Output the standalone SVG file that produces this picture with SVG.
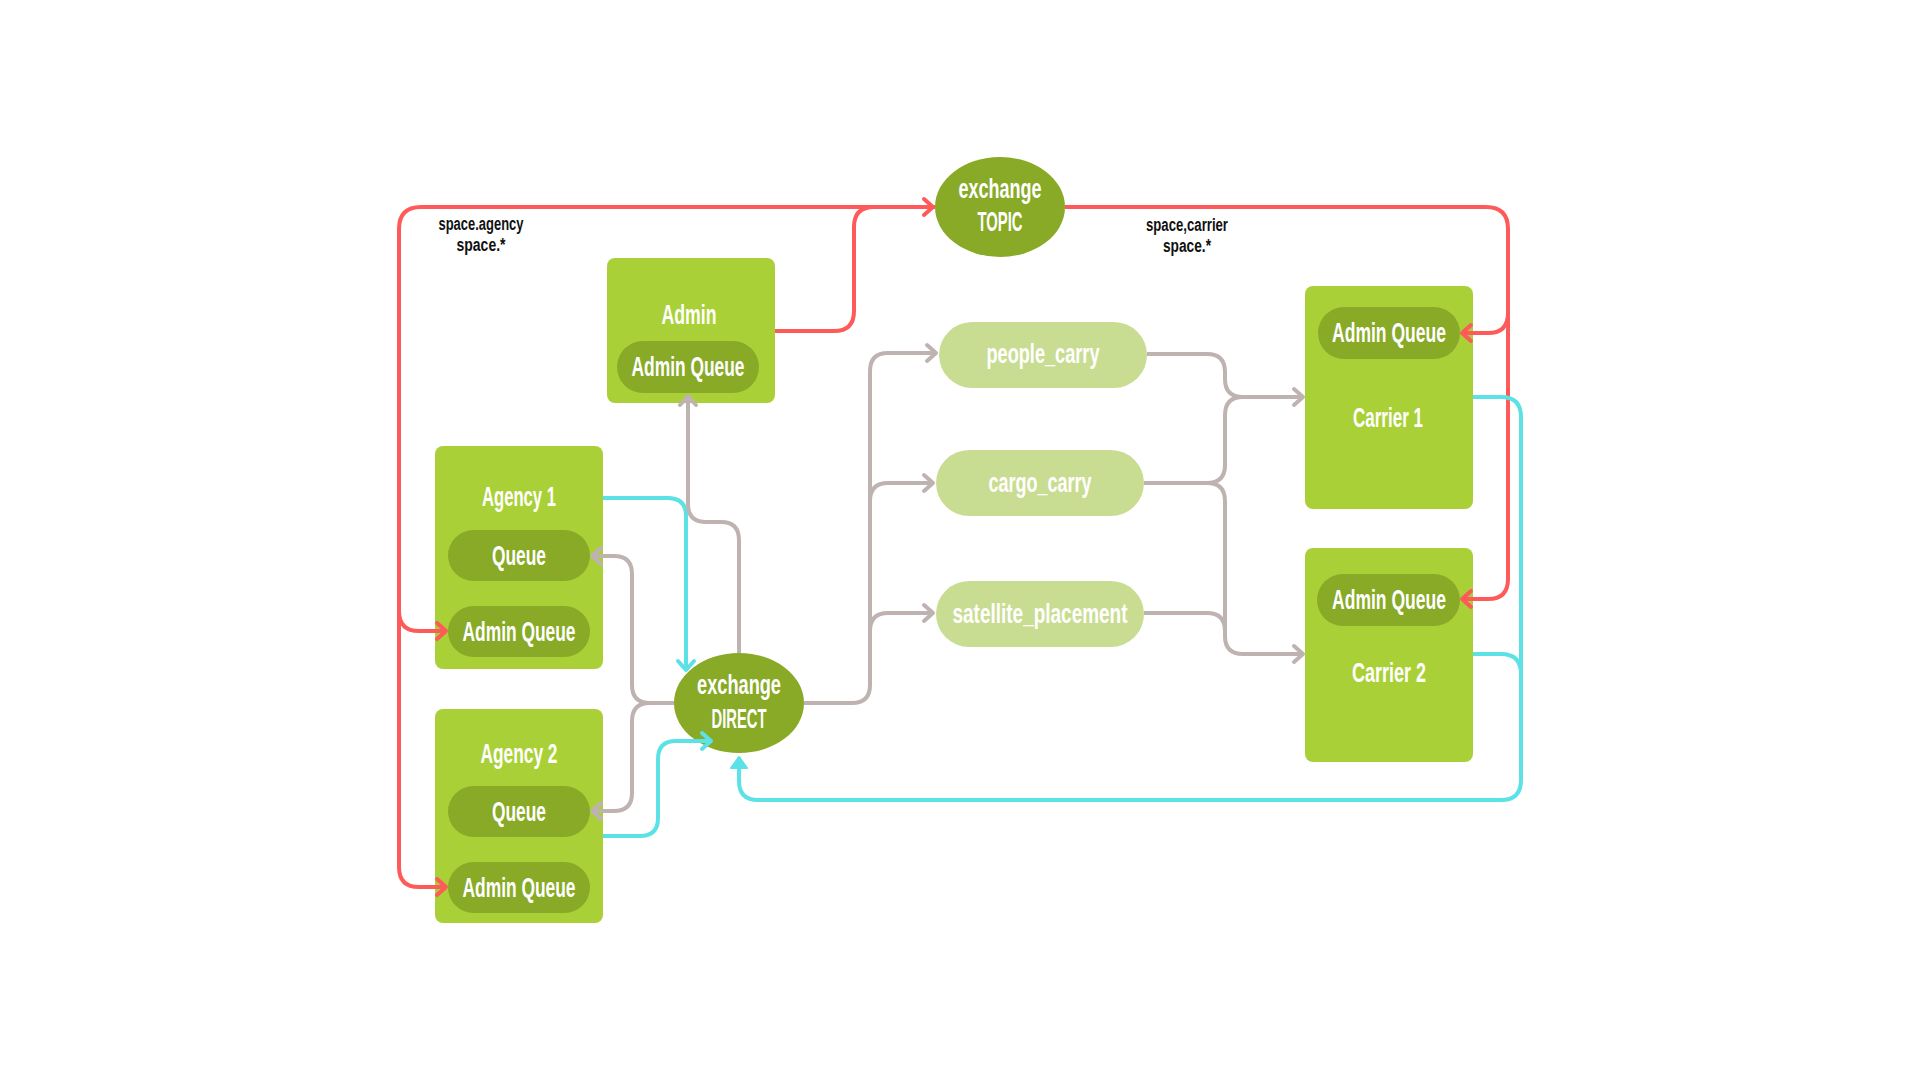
<svg xmlns="http://www.w3.org/2000/svg" width="1920" height="1080" viewBox="0 0 1920 1080">
  <style>
    .box { fill: #A9D137; }
    .pill { fill: #88AA27; }
    .route { fill: #C9DD92; }
    .xchg { fill: #88AA27; }
    .lbl { fill: #FFFFFF; font-family: "Liberation Sans Narrow", "Liberation Sans", "DejaVu Sans Condensed", sans-serif; font-weight: bold; font-size: 28px; text-anchor: middle; }
    .key { fill: #111111; font-family: "Liberation Sans Narrow", "Liberation Sans", "DejaVu Sans Condensed", sans-serif; font-weight: bold; font-size: 18px; text-anchor: middle; }
    .red { fill: none; stroke: #FF5A5A; stroke-width: 4; }
    .cyan { fill: none; stroke: #5CE1E6; stroke-width: 4; }
    .grey { fill: none; stroke: #BEB3B0; stroke-width: 4; }
  </style>
  <defs>
    <marker id="arRed" viewBox="-14 -12 18 24" markerWidth="18" markerHeight="24" refX="0" refY="0" orient="auto" markerUnits="userSpaceOnUse">
      <path d="M -9 -8 L 0 0 L -9 8" fill="none" stroke="#FF5A5A" stroke-width="4" stroke-linecap="round" stroke-linejoin="round"/>
    </marker>
    <marker id="arCyan" viewBox="-14 -12 18 24" markerWidth="18" markerHeight="24" refX="0" refY="0" orient="auto" markerUnits="userSpaceOnUse">
      <path d="M -9 -8 L 0 0 L -9 8" fill="none" stroke="#5CE1E6" stroke-width="4" stroke-linecap="round" stroke-linejoin="round"/>
    </marker>
    <marker id="arCyanFill" viewBox="-14 -12 18 24" markerWidth="18" markerHeight="24" refX="0" refY="0" orient="auto" markerUnits="userSpaceOnUse">
      <path d="M -11 -8 L 0 0 L -11 8 Z" fill="#5CE1E6" stroke="#5CE1E6" stroke-width="2" stroke-linejoin="round"/>
    </marker>
    <marker id="arGrey" viewBox="-14 -12 18 24" markerWidth="18" markerHeight="24" refX="0" refY="0" orient="auto" markerUnits="userSpaceOnUse">
      <path d="M -9 -8 L 0 0 L -9 8" fill="none" stroke="#BEB3B0" stroke-width="4" stroke-linecap="round" stroke-linejoin="round"/>
    </marker>
  </defs>

  <rect width="1920" height="1080" fill="#FFFFFF"/>

  <!-- routing key labels -->
  <g id="key-agency">
    <text class="key" x="481" y="230" textLength="85" lengthAdjust="spacingAndGlyphs">space.agency</text>
    <text class="key" x="481" y="251" textLength="49" lengthAdjust="spacingAndGlyphs">space.*</text>
  </g>
  <g id="key-carrier">
    <text class="key" x="1187" y="231" textLength="82" lengthAdjust="spacingAndGlyphs">space,carrier</text>
    <text class="key" x="1187" y="252" textLength="48" lengthAdjust="spacingAndGlyphs">space.*</text>
  </g>

  <!-- exchanges -->
  <g id="exchange-topic">
    <ellipse class="xchg" cx="1000" cy="207" rx="65" ry="50"/>
    <text class="lbl" x="1000" y="198" textLength="83" lengthAdjust="spacingAndGlyphs">exchange</text>
    <text class="lbl" x="1000" y="231" textLength="45" lengthAdjust="spacingAndGlyphs">TOPIC</text>
  </g>
  <g id="exchange-direct">
    <ellipse class="xchg" cx="739" cy="703" rx="65" ry="50"/>
    <text class="lbl" x="739" y="694" textLength="84" lengthAdjust="spacingAndGlyphs">exchange</text>
    <text class="lbl" x="739" y="728" textLength="55" lengthAdjust="spacingAndGlyphs">DIRECT</text>
  </g>

  <!-- admin -->
  <g id="admin">
    <rect class="box" x="607" y="258" width="168" height="145" rx="8"/>
    <text class="lbl" x="689" y="324" textLength="55" lengthAdjust="spacingAndGlyphs">Admin</text>
    <rect class="pill" x="617" y="341" width="142" height="52" rx="26"/>
    <text class="lbl" x="688" y="376" textLength="113" lengthAdjust="spacingAndGlyphs">Admin Queue</text>
  </g>

  <!-- agencies -->
  <g id="agency-1">
    <rect class="box" x="435" y="446" width="168" height="223" rx="8"/>
    <text class="lbl" x="519" y="506" textLength="74" lengthAdjust="spacingAndGlyphs">Agency 1</text>
    <rect class="pill" x="448" y="530" width="142" height="51" rx="25.5"/>
    <text class="lbl" x="519" y="565" textLength="54" lengthAdjust="spacingAndGlyphs">Queue</text>
    <rect class="pill" x="448" y="606" width="142" height="51" rx="25.5"/>
    <text class="lbl" x="519" y="641" textLength="113" lengthAdjust="spacingAndGlyphs">Admin Queue</text>
  </g>
  <g id="agency-2">
    <rect class="box" x="435" y="709" width="168" height="214" rx="8"/>
    <text class="lbl" x="519" y="763" textLength="77" lengthAdjust="spacingAndGlyphs">Agency 2</text>
    <rect class="pill" x="448" y="786" width="142" height="51" rx="25.5"/>
    <text class="lbl" x="519" y="821" textLength="54" lengthAdjust="spacingAndGlyphs">Queue</text>
    <rect class="pill" x="448" y="862" width="142" height="51" rx="25.5"/>
    <text class="lbl" x="519" y="897" textLength="113" lengthAdjust="spacingAndGlyphs">Admin Queue</text>
  </g>

  <!-- routing keys on the direct exchange -->
  <g id="people-carry">
    <rect class="route" x="939" y="322" width="208" height="66" rx="33"/>
    <text class="lbl" x="1043" y="363" textLength="113" lengthAdjust="spacingAndGlyphs">people_carry</text>
  </g>
  <g id="cargo-carry">
    <rect class="route" x="936" y="450" width="208" height="66" rx="33"/>
    <text class="lbl" x="1040" y="492" textLength="103" lengthAdjust="spacingAndGlyphs">cargo_carry</text>
  </g>
  <g id="satellite-placement">
    <rect class="route" x="936" y="581" width="208" height="66" rx="33"/>
    <text class="lbl" x="1040" y="623" textLength="175" lengthAdjust="spacingAndGlyphs">satellite_placement</text>
  </g>

  <!-- carriers -->
  <g id="carrier-1">
    <rect class="box" x="1305" y="286" width="168" height="223" rx="8"/>
    <rect class="pill" x="1318" y="307" width="142" height="52" rx="26"/>
    <text class="lbl" x="1389" y="342" textLength="114" lengthAdjust="spacingAndGlyphs">Admin Queue</text>
    <text class="lbl" x="1388" y="427" textLength="70" lengthAdjust="spacingAndGlyphs">Carrier 1</text>
  </g>
  <g id="carrier-2">
    <rect class="box" x="1305" y="548" width="168" height="214" rx="8"/>
    <rect class="pill" x="1317" y="574" width="143" height="52" rx="26"/>
    <text class="lbl" x="1389" y="609" textLength="114" lengthAdjust="spacingAndGlyphs">Admin Queue</text>
    <text class="lbl" x="1389" y="682" textLength="74" lengthAdjust="spacingAndGlyphs">Carrier 2</text>
  </g>

  <!-- connectors, drawn over the boxes so the arrowheads stay visible -->
  <g id="connectors">
    <!-- topic exchange routing (red) -->
    <path class="red" d="M 775 331 H 834 Q 854 331 854 311 V 227 Q 854 207 874 207 H 933" marker-end="url(#arRed)"/>
    <path class="red" d="M 935 207 H 421 Q 399 207 399 229 V 867 Q 399 887 419 887 H 446" marker-end="url(#arRed)"/>
    <path class="red" d="M 399 611 Q 399 631 419 631 H 446" marker-end="url(#arRed)"/>
    <path class="red" d="M 1065 207 H 1486 Q 1508 207 1508 229 V 579 Q 1508 599 1488 599 H 1462" marker-end="url(#arRed)"/>
    <path class="red" d="M 1508 313 Q 1508 333 1488 333 H 1462" marker-end="url(#arRed)"/>

    <!-- publishers into the direct exchange (cyan) -->
    <path class="cyan" d="M 603 498 H 668 Q 686 498 686 516 V 670" marker-end="url(#arCyan)"/>
    <path class="cyan" d="M 603 836 H 640 Q 658 836 658 818 V 759 Q 658 741 676 741 H 711" marker-end="url(#arCyan)"/>
    <path class="cyan" d="M 1473 397 H 1501 Q 1521 397 1521 417 V 780 Q 1521 800 1501 800 H 758 Q 739 800 739 781 V 757" marker-end="url(#arCyanFill)"/>
    <path class="cyan" d="M 1473 654 H 1501 Q 1521 654 1521 674"/>

    <!-- direct exchange deliveries (grey) -->
    <path class="grey" d="M 674 703 H 650 Q 632 703 632 685 V 574 Q 632 556 614 556 H 592" marker-end="url(#arGrey)"/>
    <path class="grey" d="M 650 703 Q 632 703 632 721 V 793 Q 632 811 614 811 H 592" marker-end="url(#arGrey)"/>
    <path class="grey" d="M 739 653 V 540 Q 739 522 721 522 H 706 Q 688 522 688 504 V 396" marker-end="url(#arGrey)"/>
    <path class="grey" d="M 804 703 H 852 Q 870 703 870 685 V 371 Q 870 353 888 353 H 936" marker-end="url(#arGrey)"/>
    <path class="grey" d="M 870 501 Q 870 483 888 483 H 933" marker-end="url(#arGrey)"/>
    <path class="grey" d="M 870 631 Q 870 613 888 613 H 933" marker-end="url(#arGrey)"/>

    <!-- routing keys to carriers (grey) -->
    <path class="grey" d="M 1147 354 H 1207 Q 1225 354 1225 372 V 379 Q 1225 397 1243 397 H 1303" marker-end="url(#arGrey)"/>
    <path class="grey" d="M 1144 483 H 1207 Q 1225 483 1225 465 V 415 Q 1225 397 1243 397"/>
    <path class="grey" d="M 1207 483 Q 1225 483 1225 501 V 636 Q 1225 654 1243 654 H 1303" marker-end="url(#arGrey)"/>
    <path class="grey" d="M 1144 613 H 1207 Q 1225 613 1225 631 V 636"/>
  </g>
</svg>
